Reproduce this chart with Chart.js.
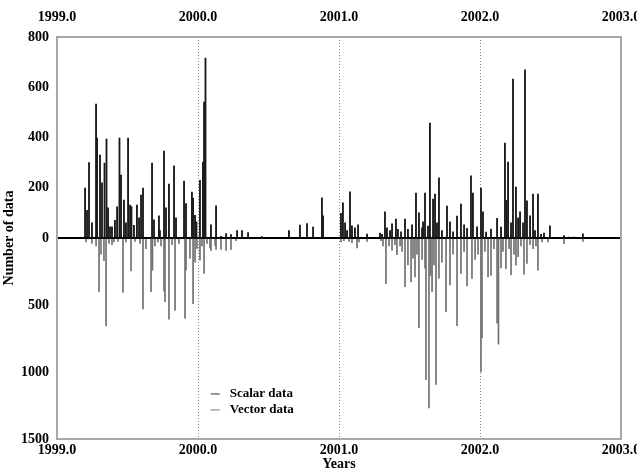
<!DOCTYPE html>
<html>
<head>
<meta charset="utf-8">
<script src="https://cdn.jsdelivr.net/npm/chart.js@4/dist/chart.umd.min.js"></script>
<style>
  html, body { margin: 0; padding: 0; background: #fff; }
  #wrap { width: 637px; height: 473px; }
</style>
</head>
<body>
<div id="wrap"><canvas id="chart"></canvas></div>
<script>
'use strict';

// ── data ────────────────────────────────────────────────────────────────────

const X_MIN = 1999.0, X_MAX = 2003.0;
const X_TICKS = [1999, 2000, 2001, 2002, 2003];
const SCALAR_MAX = 800, VECTOR_MAX = 1500;
const SCALAR_TICKS = [0, 200, 400, 600, 800];
const VECTOR_TICKS = [500, 1000, 1500];

const scalarYears = [
  1999.199, 1999.213, 1999.227, 1999.248, 1999.277, 1999.284, 1999.305, 1999.319,
  1999.337, 1999.351, 1999.362, 1999.376, 1999.390, 1999.411, 1999.426, 1999.443,
  1999.454, 1999.475, 1999.489, 1999.504, 1999.518, 1999.528, 1999.546, 1999.567,
  1999.582, 1999.596, 1999.610, 1999.674, 1999.688, 1999.723, 1999.730, 1999.759,
  1999.773, 1999.794, 1999.830, 1999.844, 1999.901, 1999.915, 1999.957, 1999.965,
  1999.979, 1999.989, 2000.014, 2000.035, 2000.043, 2000.053, 2000.092, 2000.128,
  2000.163, 2000.199, 2000.234, 2000.277, 2000.312, 2000.355, 2000.454, 2000.645,
  2000.723, 2000.773, 2000.816, 2000.879, 2000.887,
  2001.014, 2001.028, 2001.043, 2001.057, 2001.078, 2001.092, 2001.113, 2001.135,
  2001.199, 2001.291, 2001.305, 2001.326, 2001.340, 2001.362, 2001.376, 2001.404,
  2001.418, 2001.440, 2001.468, 2001.489, 2001.518, 2001.546, 2001.567, 2001.589,
  2001.596, 2001.610, 2001.631, 2001.645, 2001.667, 2001.681, 2001.695, 2001.709,
  2001.730, 2001.766, 2001.787, 2001.809, 2001.837, 2001.865, 2001.887, 2001.908,
  2001.936, 2001.950, 2001.979, 2002.007, 2002.021, 2002.043, 2002.078, 2002.121,
  2002.149, 2002.177, 2002.188, 2002.199, 2002.220, 2002.234, 2002.255, 2002.270,
  2002.284, 2002.305, 2002.319, 2002.333, 2002.355, 2002.376, 2002.390, 2002.411,
  2002.433, 2002.454, 2002.496, 2002.596, 2002.631, 2002.667, 2002.730,
];
const scalarCounts = [
  199, 110, 300, 60, 533, 398, 330, 220,
  298, 394, 120, 44, 44, 70, 124, 398,
  250, 151, 60, 398, 131, 125, 50, 131,
  80, 171, 199, 298, 72, 88, 30, 346,
  120, 215, 287, 80, 227, 137, 183, 159,
  90, 64, 230, 302, 541, 716, 52, 128,
  7, 18, 14, 30, 30, 22, 6, 30,
  51, 57, 43, 160, 88,
  98, 140, 60, 30, 184, 48, 40, 52,
  16, 20, 15, 104, 40, 30, 56, 75,
  35, 25, 75, 35, 52, 179, 100, 40,
  64, 179, 47, 457, 155, 175, 60, 239,
  30, 127, 64, 25, 87, 135, 52, 38,
  247, 179, 44, 199, 104, 24, 36, 78,
  43, 378, 150, 302, 60, 633, 203, 80,
  104, 60, 669, 148, 88, 175, 30, 175,
  15, 20, 48, 10, 4, 4, 17,
];

const vectorYears = [
  1999.206, 1999.248, 1999.277, 1999.298, 1999.312, 1999.333, 1999.348, 1999.369,
  1999.390, 1999.404, 1999.433, 1999.468, 1999.489, 1999.525, 1999.553, 1999.589,
  1999.610, 1999.631, 1999.667, 1999.677, 1999.695, 1999.716, 1999.738, 1999.759,
  1999.766, 1999.794, 1999.816, 1999.837, 1999.865, 1999.908, 1999.915, 1999.943,
  1999.965, 1999.979, 1999.993, 2000.014, 2000.028, 2000.043, 2000.064, 2000.085,
  2000.092, 2000.121, 2000.128, 2000.163, 2000.199, 2000.234, 2000.270,
  2001.014, 2001.035, 2001.071, 2001.092, 2001.128, 2001.142, 2001.199, 2001.298,
  2001.312, 2001.333, 2001.355, 2001.376, 2001.397, 2001.411, 2001.433, 2001.447,
  2001.468, 2001.489, 2001.511, 2001.525, 2001.539, 2001.553, 2001.567, 2001.589,
  2001.610, 2001.617, 2001.638, 2001.649, 2001.660, 2001.674, 2001.688, 2001.709,
  2001.730, 2001.759, 2001.787, 2001.809, 2001.837, 2001.865, 2001.887, 2001.908,
  2001.943, 2001.965, 2001.986, 2002.007, 2002.014, 2002.035, 2002.057, 2002.078,
  2002.099, 2002.121, 2002.131, 2002.149, 2002.163, 2002.184, 2002.206, 2002.220,
  2002.241, 2002.255, 2002.270, 2002.291, 2002.312, 2002.333, 2002.355, 2002.376,
  2002.397, 2002.411, 2002.440, 2002.482, 2002.596, 2002.730,
];
const vectorCounts = [
  30, 40, 60, 401, 120, 170, 656, 40,
  50, 30, 25, 406, 30, 245, 25, 40,
  530, 80, 400, 240, 60, 30, 60, 397,
  475, 605, 50, 540, 40, 600, 240, 150,
  490, 180, 80, 166, 60, 265, 40, 74,
  92, 55, 85, 85, 92, 85, 20,
  30, 20, 25, 35, 74, 30, 25, 20,
  60, 340, 60, 90, 50, 124, 60, 100,
  364, 200, 327, 150, 290, 120, 669, 160,
  226, 1057, 1268, 280, 401, 200, 1093, 300,
  180, 550, 350, 120, 654, 265, 100, 357,
  302, 160, 120, 1000, 743, 100, 290, 280,
  80, 636, 792, 223, 100, 228, 80, 275,
  120, 203, 140, 60, 270, 190, 50, 80,
  60, 240, 30, 30, 42, 25,
];

// ── helpers ─────────────────────────────────────────────────────────────────

// upper half runs 0..800, lower half 0..1500, both mapped onto one axis -1..1
const toPoints = (xs, ys, max, sign) => xs.map((x, i) => ({ x, y: sign * ys[i] / max }));

const FONT = { family: '"Liberation Serif", "Times New Roman", serif', size: 14, weight: 'bold' };

const framePlugin = {
  id: 'frame',
  afterDatasetsDraw(chart) {
    const { ctx, chartArea: a } = chart;
    ctx.save();
    ctx.strokeStyle = '#a8a8a8';
    ctx.lineWidth = 2;
    ctx.strokeRect(a.left, a.top, a.right - a.left, a.bottom - a.top);
    ctx.restore();
  },
};

const legendPlugin = {
  id: 'legendBox',
  afterDraw(chart) {
    const { ctx } = chart;
    const x = chart.scales.x.getPixelForValue(2000.09);
    const y0 = chart.scales.y.getPixelForValue(-1160 / VECTOR_MAX);
    ctx.save();
    ctx.font = `${FONT.weight} 13px ${FONT.family}`;
    ctx.textBaseline = 'middle';
    chart.data.datasets.forEach((ds, i) => {
      const y = y0 + i * 16;
      ctx.strokeStyle = ds.legendColor;
      ctx.lineWidth = 1;
      ctx.beginPath();
      ctx.moveTo(x, y + 0.5);
      ctx.lineTo(x + 9, y + 0.5);
      ctx.stroke();
      ctx.fillStyle = '#000';
      ctx.fillText(ds.label, x + 19, y);
    });
    ctx.restore();
  },
};

// ── chart ───────────────────────────────────────────────────────────────────

const xTickCfg = {
  min: X_MIN, max: X_MAX, offset: false,
  afterBuildTicks: s => { s.ticks = X_TICKS.map(v => ({ value: v })); },
  ticks: { color: '#000', font: FONT, maxRotation: 0, callback: v => v.toFixed(1) },
};

new Chart(document.getElementById('chart'), {
  type: 'bar',
  data: {
    datasets: [
      {
        label: 'Scalar data', legendColor: '#333',
        data: toPoints(scalarYears, scalarCounts, SCALAR_MAX, 1),
        backgroundColor: '#1a1a1a', barThickness: 1.2,
      },
      {
        label: 'Vector data', legendColor: '#777',
        data: toPoints(vectorYears, vectorCounts, VECTOR_MAX, -1),
        backgroundColor: '#707070', barThickness: 1.0,
      },
    ],
  },
  options: {
    responsive: true, maintainAspectRatio: false, animation: false,
    layout: { padding: { left: 0, right: 16, top: 0, bottom: 0 } },
    datasets: { bar: { grouped: false } },
    plugins: { legend: { display: false }, tooltip: { enabled: false } },
    scales: {
      x: {
        ...xTickCfg, type: 'linear', position: 'bottom',
        ticks: { ...xTickCfg.ticks, padding: 3 },
        grid: {
          offset: false, drawTicks: false, lineWidth: 1,
          color: c => (c.tick && c.tick.value > X_MIN && c.tick.value < X_MAX) ? '#8a8a8a' : 'rgba(0,0,0,0)',
        },
        border: { display: false, dash: [1, 2] },
        title: { display: true, text: 'Years', color: '#000', font: FONT, padding: { top: 0, bottom: 0 } },
        afterFit: s => { s.height = 34; s.paddingLeft = 0; s.paddingRight = 0; },
      },
      x2: {
        ...xTickCfg, type: 'linear', position: 'top',
        ticks: { ...xTickCfg.ticks, padding: 11 },
        grid: { display: false, drawTicks: false, offset: false },
        border: { display: false },
        afterFit: s => { s.height = 37; s.paddingLeft = 0; s.paddingRight = 0; },
      },
      y: {
        type: 'linear', min: -1, max: 1,
        afterBuildTicks: s => {
          s.ticks = VECTOR_TICKS.map(v => ({ value: -v / VECTOR_MAX })).reverse()
            .concat(SCALAR_TICKS.map(v => ({ value: v / SCALAR_MAX })));
        },
        ticks: {
          color: '#000', font: FONT, padding: 8,
          callback: v => v >= 0 ? Math.round(v * SCALAR_MAX) : Math.round(-v * VECTOR_MAX),
        },
        grid: {
          drawTicks: false, lineWidth: 2,
          color: c => (c.tick && Math.abs(c.tick.value) < 1e-9) ? '#000' : 'rgba(0,0,0,0)',
        },
        border: { display: false },
        title: { display: true, text: 'Number of data', color: '#000', font: FONT, padding: { top: 1, bottom: 0 } },
        afterFit: s => { s.width = 57; },
      },
    },
  },
  plugins: [framePlugin, legendPlugin],
});
</script>
</body>
</html>
